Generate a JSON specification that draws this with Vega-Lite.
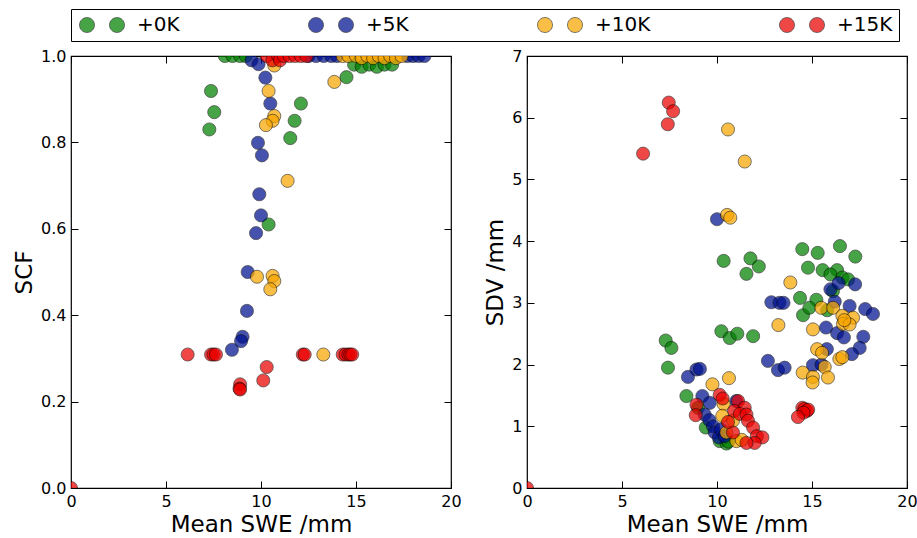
{
  "$schema": "https://vega.github.io/schema/vega-lite/v6.json",
  "autosize": {"type": "pad"},
  "padding": {"left": 12, "top": 8, "right": 5, "bottom": 5},
  "background": "white",
  "bounds": "flush",
  "spacing": 76,
  "datasets": {
    "scf": [
      {"run": "+0K", "swe": 8.1, "scf": 1.0},
      {"run": "+0K", "swe": 8.5, "scf": 1.0},
      {"run": "+0K", "swe": 8.9, "scf": 1.0},
      {"run": "+0K", "swe": 9.2, "scf": 1.0},
      {"run": "+0K", "swe": 14.9, "scf": 0.98},
      {"run": "+0K", "swe": 15.3, "scf": 0.975},
      {"run": "+0K", "swe": 15.7, "scf": 0.98},
      {"run": "+0K", "swe": 16.1, "scf": 0.975},
      {"run": "+0K", "swe": 16.5, "scf": 0.98},
      {"run": "+0K", "swe": 16.9, "scf": 0.98},
      {"run": "+0K", "swe": 7.37, "scf": 0.919},
      {"run": "+0K", "swe": 7.54, "scf": 0.87},
      {"run": "+0K", "swe": 7.28, "scf": 0.83},
      {"run": "+0K", "swe": 12.1, "scf": 0.89},
      {"run": "+0K", "swe": 11.77, "scf": 0.85},
      {"run": "+0K", "swe": 11.54, "scf": 0.81},
      {"run": "+0K", "swe": 10.4, "scf": 0.61},
      {"run": "+0K", "swe": 14.5, "scf": 0.951},
      {"run": "+5K", "swe": 9.5, "scf": 0.99},
      {"run": "+5K", "swe": 9.87, "scf": 0.981},
      {"run": "+5K", "swe": 10.23, "scf": 0.95},
      {"run": "+5K", "swe": 10.49, "scf": 0.89},
      {"run": "+5K", "swe": 9.84, "scf": 0.799},
      {"run": "+5K", "swe": 10.05, "scf": 0.77},
      {"run": "+5K", "swe": 9.91, "scf": 0.68},
      {"run": "+5K", "swe": 10.0, "scf": 0.631},
      {"run": "+5K", "swe": 9.74, "scf": 0.59},
      {"run": "+5K", "swe": 9.3, "scf": 0.5},
      {"run": "+5K", "swe": 9.26, "scf": 0.41},
      {"run": "+5K", "swe": 9.03, "scf": 0.35},
      {"run": "+5K", "swe": 8.95, "scf": 0.34},
      {"run": "+5K", "swe": 8.47, "scf": 0.32},
      {"run": "+5K", "swe": 12.5, "scf": 1.0},
      {"run": "+5K", "swe": 12.9, "scf": 1.0},
      {"run": "+5K", "swe": 13.3, "scf": 1.0},
      {"run": "+5K", "swe": 13.7, "scf": 1.0},
      {"run": "+5K", "swe": 14.0, "scf": 1.0},
      {"run": "+5K", "swe": 17.7, "scf": 1.0},
      {"run": "+5K", "swe": 18.0, "scf": 1.0},
      {"run": "+5K", "swe": 18.3, "scf": 1.0},
      {"run": "+5K", "swe": 18.6, "scf": 1.0},
      {"run": "+10K", "swe": 10.7, "scf": 0.978},
      {"run": "+10K", "swe": 10.4, "scf": 0.919},
      {"run": "+10K", "swe": 10.7, "scf": 0.861},
      {"run": "+10K", "swe": 10.61, "scf": 0.85},
      {"run": "+10K", "swe": 10.26, "scf": 0.84},
      {"run": "+10K", "swe": 11.4, "scf": 0.711},
      {"run": "+10K", "swe": 13.86, "scf": 0.94},
      {"run": "+10K", "swe": 9.79, "scf": 0.489},
      {"run": "+10K", "swe": 10.61, "scf": 0.491},
      {"run": "+10K", "swe": 10.7, "scf": 0.479},
      {"run": "+10K", "swe": 10.49, "scf": 0.46},
      {"run": "+10K", "swe": 13.28, "scf": 0.309},
      {"run": "+10K", "swe": 14.3, "scf": 1.0},
      {"run": "+10K", "swe": 14.6, "scf": 1.0},
      {"run": "+10K", "swe": 15.0, "scf": 1.0},
      {"run": "+10K", "swe": 15.3, "scf": 0.995},
      {"run": "+10K", "swe": 15.6, "scf": 1.0},
      {"run": "+10K", "swe": 15.9, "scf": 0.995},
      {"run": "+10K", "swe": 16.2, "scf": 1.0},
      {"run": "+10K", "swe": 16.5, "scf": 0.995},
      {"run": "+10K", "swe": 16.8, "scf": 1.0},
      {"run": "+10K", "swe": 17.1, "scf": 0.995},
      {"run": "+10K", "swe": 17.4, "scf": 1.0},
      {"run": "+15K", "swe": 0.0, "scf": 0.0},
      {"run": "+15K", "swe": 6.14, "scf": 0.309},
      {"run": "+15K", "swe": 7.37, "scf": 0.309},
      {"run": "+15K", "swe": 7.5, "scf": 0.309},
      {"run": "+15K", "swe": 7.63, "scf": 0.309},
      {"run": "+15K", "swe": 12.2, "scf": 0.309},
      {"run": "+15K", "swe": 12.3, "scf": 0.309},
      {"run": "+15K", "swe": 14.3, "scf": 0.309},
      {"run": "+15K", "swe": 14.45, "scf": 0.309},
      {"run": "+15K", "swe": 14.6, "scf": 0.309},
      {"run": "+15K", "swe": 14.7, "scf": 0.309},
      {"run": "+15K", "swe": 14.8, "scf": 0.309},
      {"run": "+15K", "swe": 10.3, "scf": 0.28},
      {"run": "+15K", "swe": 10.12, "scf": 0.249},
      {"run": "+15K", "swe": 8.9, "scf": 0.24},
      {"run": "+15K", "swe": 8.87, "scf": 0.23},
      {"run": "+15K", "swe": 8.9, "scf": 0.228},
      {"run": "+15K", "swe": 10.3, "scf": 1.0},
      {"run": "+15K", "swe": 10.6, "scf": 0.99},
      {"run": "+15K", "swe": 10.9, "scf": 1.0},
      {"run": "+15K", "swe": 11.0, "scf": 0.99},
      {"run": "+15K", "swe": 11.2, "scf": 1.0},
      {"run": "+15K", "swe": 11.5, "scf": 1.0},
      {"run": "+15K", "swe": 11.8, "scf": 1.0},
      {"run": "+15K", "swe": 12.1, "scf": 1.0},
      {"run": "+15K", "swe": 12.4, "scf": 1.0}
    ],
    "sdv": [
      {"run": "+0K", "swe": 14.49, "sdv": 3.87},
      {"run": "+0K", "swe": 15.3, "sdv": 3.81},
      {"run": "+0K", "swe": 16.47, "sdv": 3.92},
      {"run": "+0K", "swe": 17.28, "sdv": 3.75},
      {"run": "+0K", "swe": 10.35, "sdv": 3.68},
      {"run": "+0K", "swe": 11.76, "sdv": 3.72},
      {"run": "+0K", "swe": 12.2, "sdv": 3.59},
      {"run": "+0K", "swe": 11.55, "sdv": 3.47},
      {"run": "+0K", "swe": 14.79, "sdv": 3.57},
      {"run": "+0K", "swe": 15.56, "sdv": 3.53},
      {"run": "+0K", "swe": 16.32, "sdv": 3.53},
      {"run": "+0K", "swe": 15.97, "sdv": 3.46},
      {"run": "+0K", "swe": 16.6, "sdv": 3.41},
      {"run": "+0K", "swe": 16.9, "sdv": 3.38},
      {"run": "+0K", "swe": 14.37, "sdv": 3.08},
      {"run": "+0K", "swe": 15.23, "sdv": 3.05},
      {"run": "+0K", "swe": 16.1, "sdv": 3.19},
      {"run": "+0K", "swe": 14.53, "sdv": 2.8},
      {"run": "+0K", "swe": 14.86, "sdv": 2.92},
      {"run": "+0K", "swe": 15.8, "sdv": 2.88},
      {"run": "+0K", "swe": 7.3, "sdv": 2.39},
      {"run": "+0K", "swe": 7.6, "sdv": 2.27},
      {"run": "+0K", "swe": 7.42, "sdv": 1.95},
      {"run": "+0K", "swe": 10.23, "sdv": 2.54},
      {"run": "+0K", "swe": 10.67, "sdv": 2.43},
      {"run": "+0K", "swe": 11.07, "sdv": 2.5},
      {"run": "+0K", "swe": 11.9, "sdv": 2.46},
      {"run": "+0K", "swe": 8.39, "sdv": 1.49},
      {"run": "+0K", "swe": 9.0, "sdv": 1.3},
      {"run": "+0K", "swe": 9.41, "sdv": 0.98},
      {"run": "+0K", "swe": 10.14, "sdv": 0.76},
      {"run": "+0K", "swe": 10.5, "sdv": 0.72},
      {"run": "+0K", "swe": 10.6, "sdv": 0.75},
      {"run": "+5K", "swe": 10.0, "sdv": 4.355},
      {"run": "+5K", "swe": 15.97, "sdv": 3.22},
      {"run": "+5K", "swe": 16.4, "sdv": 3.32},
      {"run": "+5K", "swe": 17.27, "sdv": 3.3},
      {"run": "+5K", "swe": 12.86, "sdv": 3.01},
      {"run": "+5K", "swe": 13.29, "sdv": 3.0},
      {"run": "+5K", "swe": 13.5, "sdv": 3.0},
      {"run": "+5K", "swe": 16.2, "sdv": 3.02},
      {"run": "+5K", "swe": 16.98, "sdv": 2.95},
      {"run": "+5K", "swe": 17.8, "sdv": 2.9},
      {"run": "+5K", "swe": 18.21, "sdv": 2.82},
      {"run": "+5K", "swe": 15.74, "sdv": 2.6},
      {"run": "+5K", "swe": 16.32, "sdv": 2.51},
      {"run": "+5K", "swe": 16.68, "sdv": 2.44},
      {"run": "+5K", "swe": 17.7, "sdv": 2.45},
      {"run": "+5K", "swe": 17.51, "sdv": 2.27},
      {"run": "+5K", "swe": 17.1, "sdv": 2.17},
      {"run": "+5K", "swe": 15.78, "sdv": 2.25},
      {"run": "+5K", "swe": 12.68, "sdv": 2.06},
      {"run": "+5K", "swe": 13.21, "sdv": 1.91},
      {"run": "+5K", "swe": 13.56, "sdv": 1.95},
      {"run": "+5K", "swe": 15.05, "sdv": 1.99},
      {"run": "+5K", "swe": 15.5, "sdv": 2.0},
      {"run": "+5K", "swe": 8.47, "sdv": 1.8},
      {"run": "+5K", "swe": 8.92, "sdv": 1.92},
      {"run": "+5K", "swe": 9.1, "sdv": 1.93},
      {"run": "+5K", "swe": 9.23, "sdv": 1.49},
      {"run": "+5K", "swe": 9.62, "sdv": 1.38},
      {"run": "+5K", "swe": 9.35, "sdv": 1.19},
      {"run": "+5K", "swe": 9.6, "sdv": 1.1},
      {"run": "+5K", "swe": 9.79, "sdv": 1.0},
      {"run": "+5K", "swe": 9.88, "sdv": 0.9},
      {"run": "+5K", "swe": 10.1, "sdv": 0.82},
      {"run": "+5K", "swe": 10.2, "sdv": 0.95},
      {"run": "+5K", "swe": 10.4, "sdv": 0.84},
      {"run": "+5K", "swe": 11.02, "sdv": 1.41},
      {"run": "+10K", "swe": 10.58, "sdv": 5.81},
      {"run": "+10K", "swe": 11.46, "sdv": 5.29},
      {"run": "+10K", "swe": 10.53, "sdv": 4.425},
      {"run": "+10K", "swe": 10.7, "sdv": 4.38},
      {"run": "+10K", "swe": 13.86, "sdv": 3.33},
      {"run": "+10K", "swe": 13.23, "sdv": 2.64},
      {"run": "+10K", "swe": 15.05, "sdv": 2.57},
      {"run": "+10K", "swe": 15.49, "sdv": 2.92},
      {"run": "+10K", "swe": 16.11, "sdv": 2.92},
      {"run": "+10K", "swe": 16.6, "sdv": 2.79},
      {"run": "+10K", "swe": 16.63, "sdv": 2.66},
      {"run": "+10K", "swe": 17.16, "sdv": 2.76},
      {"run": "+10K", "swe": 16.98, "sdv": 2.65},
      {"run": "+10K", "swe": 16.7, "sdv": 2.72},
      {"run": "+10K", "swe": 15.27, "sdv": 2.25},
      {"run": "+10K", "swe": 15.53, "sdv": 2.19},
      {"run": "+10K", "swe": 15.67, "sdv": 1.96},
      {"run": "+10K", "swe": 16.44, "sdv": 2.09},
      {"run": "+10K", "swe": 16.6, "sdv": 2.12},
      {"run": "+10K", "swe": 14.51, "sdv": 1.87},
      {"run": "+10K", "swe": 15.05, "sdv": 1.8},
      {"run": "+10K", "swe": 15.03, "sdv": 1.71},
      {"run": "+10K", "swe": 15.84, "sdv": 1.79},
      {"run": "+10K", "swe": 9.76, "sdv": 1.68},
      {"run": "+10K", "swe": 10.63, "sdv": 1.78},
      {"run": "+10K", "swe": 10.35, "sdv": 1.36},
      {"run": "+10K", "swe": 10.28, "sdv": 1.17},
      {"run": "+10K", "swe": 10.84, "sdv": 1.09},
      {"run": "+10K", "swe": 10.49, "sdv": 0.9},
      {"run": "+10K", "swe": 11.02, "sdv": 0.76},
      {"run": "+10K", "swe": 11.3, "sdv": 0.78},
      {"run": "+15K", "swe": 0.0, "sdv": 0.0},
      {"run": "+15K", "swe": 7.46, "sdv": 6.245},
      {"run": "+15K", "swe": 7.69, "sdv": 6.105},
      {"run": "+15K", "swe": 7.41, "sdv": 5.894},
      {"run": "+15K", "swe": 6.11, "sdv": 5.418},
      {"run": "+15K", "swe": 10.14, "sdv": 1.51},
      {"run": "+15K", "swe": 10.3, "sdv": 1.45},
      {"run": "+15K", "swe": 11.11, "sdv": 1.41},
      {"run": "+15K", "swe": 11.46, "sdv": 1.3},
      {"run": "+15K", "swe": 10.9, "sdv": 1.25},
      {"run": "+15K", "swe": 11.2, "sdv": 1.2},
      {"run": "+15K", "swe": 11.55, "sdv": 1.19},
      {"run": "+15K", "swe": 11.63, "sdv": 1.09},
      {"run": "+15K", "swe": 11.9, "sdv": 0.98},
      {"run": "+15K", "swe": 12.1, "sdv": 0.84},
      {"run": "+15K", "swe": 12.39, "sdv": 0.82},
      {"run": "+15K", "swe": 11.98, "sdv": 0.73},
      {"run": "+15K", "swe": 11.55, "sdv": 0.73},
      {"run": "+15K", "swe": 10.84, "sdv": 0.9},
      {"run": "+15K", "swe": 10.58, "sdv": 1.07},
      {"run": "+15K", "swe": 8.92, "sdv": 1.35},
      {"run": "+15K", "swe": 8.88, "sdv": 1.18},
      {"run": "+15K", "swe": 14.49, "sdv": 1.3},
      {"run": "+15K", "swe": 14.6, "sdv": 1.28},
      {"run": "+15K", "swe": 14.74, "sdv": 1.25},
      {"run": "+15K", "swe": 14.8, "sdv": 1.27},
      {"run": "+15K", "swe": 14.55, "sdv": 1.22},
      {"run": "+15K", "swe": 14.26, "sdv": 1.15}
    ]
  },
  "hconcat": [
    {
      "width": 380,
      "height": 432,
      "data": {"name": "scf"},
      "layer": [
        {
          "mark": {"type": "circle", "size": 172, "opacity": 0.72, "stroke": "black", "strokeWidth": 0.7, "clip": true},
          "encoding": {
            "x": {"field": "swe", "type": "quantitative", "scale": {"domain": [0, 20], "nice": false, "zero": false},
                  "axis": {"orient": "bottom", "values": [0, 5, 10, 15, 20], "format": "d", "title": "Mean SWE /mm"}},
            "y": {"field": "scf", "type": "quantitative", "scale": {"domain": [0, 1], "nice": false, "zero": false},
                  "axis": {"orient": "left", "values": [0, 0.2, 0.4, 0.6, 0.8, 1], "format": ".1f", "title": "SCF"}},
            "color": {"field": "run", "type": "nominal",
                      "scale": {"domain": ["+0K", "+5K", "+10K", "+15K"], "range": ["#008000", "#00118f", "#f7a600", "#ea0000"]},
                      "legend": {"title": null}}
          }
        },
        {
          "mark": {"type": "circle", "opacity": 0},
          "encoding": {
            "x": {"field": "swe", "type": "quantitative", "scale": {"domain": [0, 20], "nice": false, "zero": false},
                  "axis": {"orient": "top", "values": [0, 5, 10, 15, 20], "labels": false, "title": null}},
            "y": {"field": "scf", "type": "quantitative", "scale": {"domain": [0, 1], "nice": false, "zero": false},
                  "axis": {"orient": "right", "values": [0, 0.2, 0.4, 0.6, 0.8, 1], "labels": false, "title": null}}
          }
        }
      ],
      "resolve": {"axis": {"x": "independent", "y": "independent"}}
    },
    {
      "width": 380,
      "height": 432,
      "data": {"name": "sdv"},
      "layer": [
        {
          "mark": {"type": "circle", "size": 172, "opacity": 0.72, "stroke": "black", "strokeWidth": 0.7, "clip": true},
          "encoding": {
            "x": {"field": "swe", "type": "quantitative", "scale": {"domain": [0, 20], "nice": false, "zero": false},
                  "axis": {"orient": "bottom", "values": [0, 5, 10, 15, 20], "format": "d", "title": "Mean SWE /mm"}},
            "y": {"field": "sdv", "type": "quantitative", "scale": {"domain": [0, 7], "nice": false, "zero": false},
                  "axis": {"orient": "left", "values": [0, 1, 2, 3, 4, 5, 6, 7], "format": "d", "title": "SDV /mm"}},
            "color": {"field": "run", "type": "nominal",
                      "scale": {"domain": ["+0K", "+5K", "+10K", "+15K"], "range": ["#008000", "#00118f", "#f7a600", "#ea0000"]},
                      "legend": {"title": null}}
          }
        },
        {
          "mark": {"type": "circle", "opacity": 0},
          "encoding": {
            "x": {"field": "swe", "type": "quantitative", "scale": {"domain": [0, 20], "nice": false, "zero": false},
                  "axis": {"orient": "top", "values": [0, 5, 10, 15, 20], "labels": false, "title": null}},
            "y": {"field": "sdv", "type": "quantitative", "scale": {"domain": [0, 7], "nice": false, "zero": false},
                  "axis": {"orient": "right", "values": [0, 1, 2, 3, 4, 5, 6, 7], "labels": false, "title": null}}
          }
        }
      ],
      "resolve": {"axis": {"x": "independent", "y": "independent"}}
    }
  ],
  "config": {
    "font": "DejaVu Sans",
    "view": {"stroke": "black", "strokeWidth": 1.2},
    "axis": {
      "grid": false,
      "domain": false,
      "ticks": true,
      "tickColor": "black",
      "tickSize": -7,
      "tickWidth": 1,
      "labelFont": "DejaVu Sans",
      "labelFontSize": 16,
      "labelColor": "black",
      "labelPadding": 12,
      "labelFlush": false,
      "labelOverlap": false,
      "titleFont": "DejaVu Sans",
      "titleFontSize": 23,
      "titleFontWeight": "normal",
      "titleColor": "black",
      "titlePadding": 4
    },
    "legend": {
      "orient": "none",
      "legendX": 0,
      "legendY": -47,
      "direction": "horizontal",
      "columns": 4,
      "columnPadding": 126,
      "padding": 6,
      "strokeColor": "black",
      "symbolType": "M-1,0C-1,-0.5523,-0.5523,-1,0,-1C0.5523,-1,1,-0.5523,1,0C1,0.5523,0.5523,1,0,1C-0.5523,1,-1,0.5523,-1,0ZM3,0C3,-0.5523,3.4477,-1,4,-1C4.5523,-1,5,-0.5523,5,0C5,0.5523,4.5523,1,4,1C3.4477,1,3,0.5523,3,0Z",
      "symbolSize": 225,
      "symbolOpacity": 0.72,
      "symbolStrokeColor": "black",
      "symbolStrokeWidth": 0.7,
      "labelFont": "DejaVu Sans",
      "labelFontSize": 20,
      "labelColor": "black",
      "labelOffset": 40
    }
  }
}
